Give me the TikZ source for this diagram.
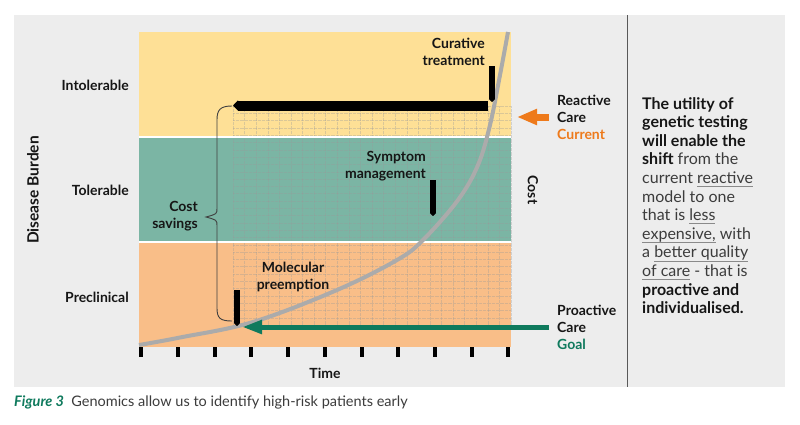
\documentclass[tikz,border=0pt]{standalone}
\usepackage{fontspec}
\setmainfont{Lato}
\usetikzlibrary{arrows.meta}
\definecolor{panelgray}{HTML}{EDEDED}
\definecolor{bandyellow}{HTML}{FEE096}
\definecolor{bandteal}{HTML}{7BB5A4}
\definecolor{bandorange}{HTML}{F9BE88}
\definecolor{curvegray}{HTML}{ABABAB}
\definecolor{reactorange}{HTML}{EE7A1B}
\definecolor{goalgreen}{HTML}{0F7A5D}
\definecolor{ink}{HTML}{161616}
\definecolor{bodygray}{HTML}{3C3C3C}
\definecolor{ulgray}{HTML}{8A8A8A}
\newsavebox\ulbox
\newcommand\ulword[1]{\sbox\ulbox{#1}\rlap{\textcolor{ulgray}{\rule[-3.5pt]{\wd\ulbox}{0.8pt}}}\usebox\ulbox}

\begin{document}
\begin{tikzpicture}[x=1pt,y=-1pt,
    gridline/.style={black!40,densely dotted,line width=0.3pt,opacity=0.35},
    marker/.style={line width=6pt,-{Triangle[length=3pt,width=6pt]}},
    lbl/.style={font=\fontsize{14}{17}\selectfont\bfseries,text=ink,inner sep=0pt}]
  \useasboundingbox[fill=white] (0,0) rectangle (800,424);
  \fill[panelgray] (14,15) rectangle (785,387);
  \draw[black!65,line width=1pt] (627,15) -- (627,387);
  % bands
  \fill[bandyellow] (139,32) rectangle (511,137);
  \fill[bandteal] (139,137) rectangle (511,242);
  \fill[bandorange] (139,242) rectangle (511,347);
  \foreach \i in {0,...,24}
    \draw[gridline] ({233+11.58*\i},106) -- ({233+11.58*\i},325);
  \foreach \j in {0,...,30}
    \draw[gridline] (233,{106+7.3*\j}) -- (511,{106+7.3*\j});
  \draw[white,line width=1.6pt] (139,137) -- (511,137) (139,242) -- (511,242);
  % time ticks
  \foreach \i in {0,...,10}
    \fill[black] ({139.3+36.7*\i},347) rectangle ({143.3+36.7*\i},357);
  % cost curve
  \draw[curvegray,line width=4pt] plot[smooth,tension=0.6] coordinates
    {(139,345) (180,337.5) (253,322) (337,290) (397,260) (423,240) (458,200)
     (478,165) (490,125) (500,75) (508,32)};
  % brace
  \draw[black!75,line width=0.9pt] (232,106) .. controls (220,106) and (217,110) .. (217,120)
    -- (217,208) .. controls (217,214) .. (206,217) .. controls (217,220) .. (217,226)
    -- (217,308) .. controls (217,318) and (220,321) .. (232,321);
  % markers
  \coordinate (curtop) at (492,66);
  \coordinate (curend) at (492,102);
  \coordinate (symtop) at (433,180);
  \coordinate (symend) at (433,216);
  \coordinate (moltop) at (237,290);
  \coordinate (molend) at (237,326);
  \draw[marker] (curtop) -- (curend);
  \draw[marker] (symtop) -- (symend);
  \draw[marker] (moltop) -- (molend);
  \coordinate (shiftstart) at (488,105.5);
  \coordinate (shifttip) at (233,105.5);
  \draw[line width=10pt,-{Triangle[length=5pt,width=10pt]}] (shiftstart) -- (shifttip);
  % labels
  \node[lbl,align=right,anchor=east] (curative) at (485,51.5) {Curative\\treatment};
  \node[lbl,align=right,anchor=east] (symptom) at (426,166.5) {Symptom\\management};
  \node[lbl,align=center] (molecular) at (293,276.5) {Molecular\\preemption};
  \node[lbl,align=right,anchor=east] (savings) at (198,216.5) {Cost\\savings};
  \node[lbl,anchor=east] (intol) at (129,85) {Intolerable};
  \node[lbl,anchor=east] (tol) at (129,190) {Tolerable};
  \node[lbl,anchor=east] (precl) at (129,297) {Preclinical};
  \node[lbl,rotate=90,font=\fontsize{15.5}{17}\selectfont\bfseries] (burden) at (33,190) {Disease Burden};
  \node[lbl] (time) at (325,373) {Time};
  \node[lbl,rotate=-90] (cost) at (533,190) {Cost};
  \node[lbl,align=left,anchor=west] (reactive) at (557,117)
    {Reactive\\Care\\\textcolor{reactorange}{Current}};
  \node[lbl,align=left,anchor=west] (proactive) at (557,327)
    {Proactive\\Care\\\textcolor{goalgreen}{Goal}};
  \draw[reactorange,line width=7pt,-{Triangle[length=20pt,width=15pt]}]
    ([xshift=-8pt]reactive.west) -- (517,117);
  \draw[goalgreen,line width=5pt,-{Triangle[length=20pt,width=13pt]}]
    ([xshift=-8pt]proactive.west) -- (242,327);
  % text panel
  \node[inner sep=0pt,align=left,anchor=west,text=bodygray,
    font=\fontsize{16}{18.6}\selectfont] (claim) at (642,205.5)
    {\textcolor{ink}{\textbf{The utility of}}\\
     \textcolor{ink}{\textbf{genetic testing}}\\
     \textcolor{ink}{\textbf{will enable the}}\\
     \textcolor{ink}{\textbf{shift}} from the\\
     current \ulword{reactive}\\
     model to one\\
     that is \ulword{less}\\
     \ulword{expensive,} with\\
     a \ulword{better quality}\\
     \ulword{of care} - that is\\
     \textcolor{ink}{\textbf{proactive and}}\\
     \textcolor{ink}{\textbf{individualised.}}};
  \node[inner sep=0pt,anchor=west,font=\fontsize{14.5}{16}\selectfont,text=bodygray] (caption) at (14,402)
    {\textcolor{goalgreen}{\bfseries\itshape Figure 3}\enspace Genomics allow us to identify high-risk patients early};
\end{tikzpicture}
\end{document}
